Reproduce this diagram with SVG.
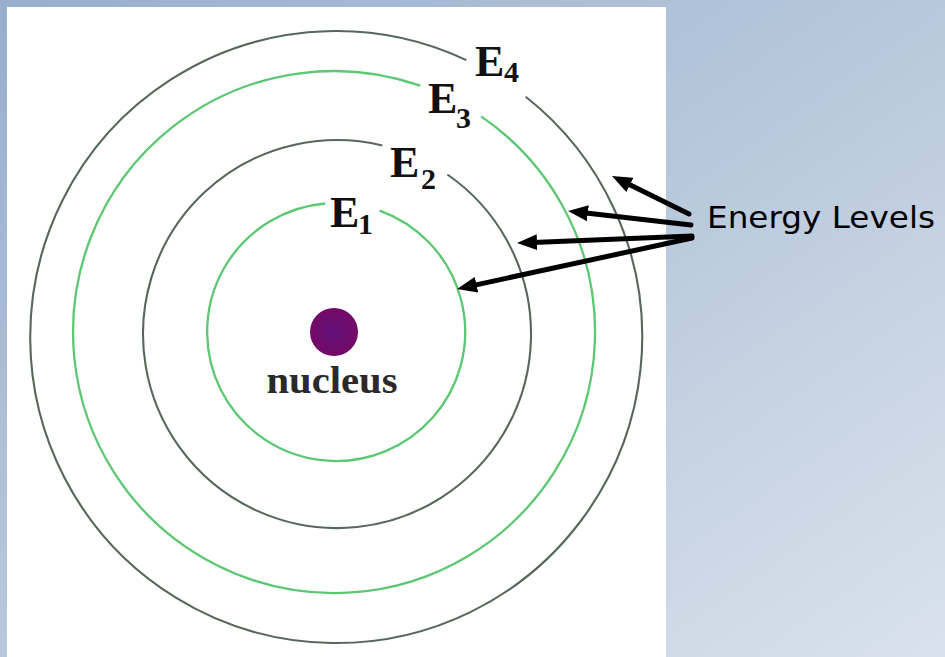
<svg xmlns="http://www.w3.org/2000/svg" width="945" height="657" viewBox="0 0 945 657">
  <defs>
    <linearGradient id="bg" x1="0" y1="0" x2="1" y2="1">
      <stop offset="0" stop-color="#97afcc"/>
      <stop offset="1" stop-color="#d9e2ec"/>
    </linearGradient>
    <radialGradient id="nuc" cx="0.5" cy="0.5" r="0.5">
      <stop offset="0" stop-color="#62127a"/>
      <stop offset="1" stop-color="#740a66"/>
    </radialGradient>
    <marker id="ah" markerUnits="userSpaceOnUse" markerWidth="20" markerHeight="16" viewBox="0 0 20 16" refX="4" refY="8" orient="auto">
      <path d="M0,0 L20,8 L0,16 Z" fill="#000"/>
    </marker>
    <style>
      .orb { fill: none; }
      .green { stroke: #5cc873; stroke-width: 2.3; }
      .dark { stroke: #55685b; stroke-width: 2.1; }
      .lbl { font-family: "Liberation Serif", "Times New Roman", serif; font-weight: bold; fill: #111; }
      .big { font-size: 44px; }
      .sub { font-size: 30px; }
      .arrow { stroke: #000; stroke-width: 5; stroke-linecap: round; fill: none; marker-end: url(#ah); }
    </style>
  </defs>

  <rect x="0" y="0" width="945" height="657" fill="url(#bg)"/>
  <rect x="7" y="7" width="659" height="650" fill="#ffffff"/>

  <g id="orbit-E4">
    <path class="orb dark" d="M 525.7 96.8 A 306 306 0 1 1 466.3 60.1"/>
    <text class="lbl big" x="475" y="76">E</text>
    <text class="lbl sub" x="504" y="82">4</text>
  </g>
  <g id="orbit-E3">
    <path class="orb green" d="M 481.1 116.4 A 261 261 0 1 1 420.3 85.7"/>
    <text class="lbl big" x="428" y="113">E</text>
    <text class="lbl sub" x="456" y="128">3</text>
  </g>
  <g id="orbit-E2">
    <path class="orb dark" d="M 447.4 174.5 A 194 194 0 1 1 382.3 145.4"/>
    <text class="lbl big" x="390" y="177">E</text>
    <text class="lbl sub" x="421" y="189">2</text>
  </g>
  <g id="orbit-E1">
    <path class="orb green" d="M 379.7 210.6 A 129 129 0 1 1 325.2 203.5"/>
    <text class="lbl big" x="330" y="227">E</text>
    <text class="lbl sub" x="358" y="234">1</text>
  </g>

  <g id="nucleus">
    <circle cx="334" cy="332" r="24" fill="url(#nuc)"/>
    <text x="332" y="393" text-anchor="middle" font-family="Liberation Serif, serif" font-weight="bold" font-size="38" fill="#2a2a2a" textLength="131" lengthAdjust="spacingAndGlyphs">nucleus</text>
  </g>

  <g id="connectors">
    <line class="arrow" x1="689" y1="214" x2="626.3" y2="183.1"/>
    <line class="arrow" x1="691" y1="225" x2="583.9" y2="212.8"/>
    <line class="arrow" x1="692" y1="236" x2="533" y2="242.4"/>
    <line class="arrow" x1="692" y1="238" x2="472.6" y2="285.6"/>
  </g>

  <g id="energy-levels-label">
    <text x="707" y="228" font-family="'Comic Sans MS', 'DejaVu Sans', sans-serif" font-size="30" fill="#000" textLength="228" lengthAdjust="spacingAndGlyphs">Energy Levels</text>
  </g>
</svg>
